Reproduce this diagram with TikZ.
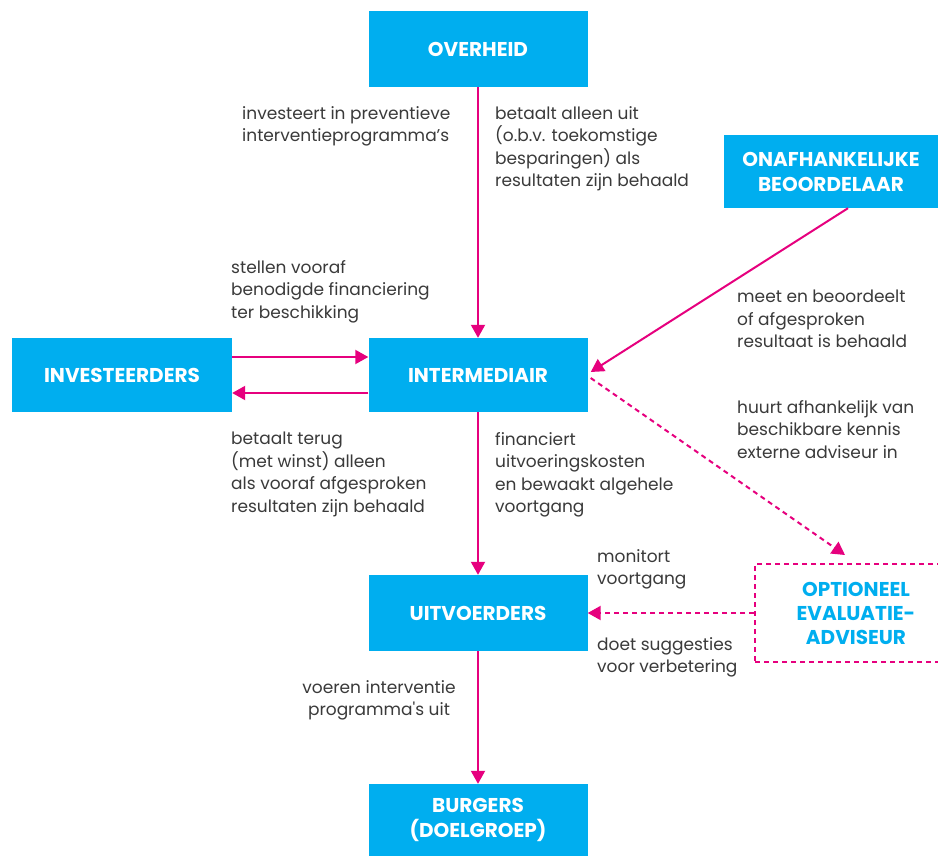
\documentclass[tikz,border=0pt]{standalone}
\usepackage{fontspec}
\setmainfont{Poppins}
\usetikzlibrary{arrows.meta}
\definecolor{boxblue}{HTML}{00AEEF}
\definecolor{mag}{HTML}{E6007E}
\definecolor{txt}{HTML}{3A3A3A}
\begin{document}
\begin{tikzpicture}[x=1pt,y=-1pt,
 box/.style={fill=boxblue, text=white, font=\bfseries\fontsize{20}{25}\selectfont, align=center, inner sep=0pt, minimum width=219pt, minimum height=76pt},
 lbl/.style={text=txt, font=\fontsize{17}{22.5}\selectfont, align=left, inner sep=0pt, anchor=north west},
 arr/.style={draw=mag, line width=2pt, -{Triangle[length=13pt,width=14pt]}},
 darr/.style={arr, dash pattern=on 5pt off 4pt}]
\useasboundingbox (0,0) rectangle (938,856);
\fill[white] (0,0) rectangle (938,856);
\node[box] (ov) at (478,49) {OVERHEID};
\node[box, minimum width=220pt, minimum height=74pt] (inv) at (122,375) {INVESTEERDERS};
\node[box, minimum height=74pt] (im) at (478,375) {INTERMEDIAIR};
\node[box, minimum width=214pt, minimum height=73pt] (be) at (831,171.5) {ONAFHANKELIJKE\\BEOORDELAAR};
\node[box] (uit) at (478,613) {UITVOERDERS};
\node[box, minimum height=72pt] (bu) at (478,820) {BURGERS\\(DOELGROEP)};
\node[draw=mag, dash pattern=on 5pt off 4pt, line width=2pt, text=boxblue, font=\bfseries\fontsize{20}{24}\selectfont, minimum width=202pt, minimum height=98pt, align=center, inner sep=0pt] (opt) at (856,613) {OPTIONEEL\\EVALUATIE-\\ADVISEUR};

\node[lbl] (t1) at (242,106) {investeert in preventieve\\interventieprogramma’s};
\node[lbl] (t2) at (495,106) {betaalt alleen uit\\(o.b.v. toekomstige\\besparingen) als\\resultaten zijn behaald};
\node[lbl] (t3) at (231,260) {stellen vooraf\\benodigde financiering\\ter beschikking};
\node[lbl] (t4) at (737,290) {meet en beoordeelt\\of afgesproken\\resultaat is behaald};
\node[lbl] (t5) at (231,432) {betaalt terug\\(met winst) alleen\\als vooraf afgesproken\\resultaten zijn behaald};
\node[lbl] (t6) at (495,432) {financiert\\uitvoeringskosten\\en bewaakt algehele\\voortgang};
\node[lbl] (t7) at (737,400) {huurt afhankelijk van\\beschikbare kennis\\externe adviseur in};
\node[lbl] (t8) at (597,549) {monitort\\voortgang};
\node[lbl] (t9) at (597,637) {doet suggesties\\voor verbetering};
\node[lbl, align=center, anchor=north] (t10) at (379,680) {voeren interventie\\programma\textquotesingle s uit};

\draw[arr] (ov) -- (im);
\draw[arr] ([xshift=17pt]be.south) -- ([xshift=3pt,yshift=3pt]im.east);
\draw[darr] ([xshift=3pt,yshift=-3pt]im.east) -- ([xshift=-11pt,yshift=8pt]opt.north);
\draw[darr] (opt) -- (uit);
\draw[arr] (im) -- (uit);
\draw[arr] (uit) -- (bu);
\draw[arr] ([yshift=18pt]inv.east) -- ([yshift=18pt]im.west);
\draw[arr] ([yshift=-18pt]im.west) -- ([yshift=-18pt]inv.east);
\end{tikzpicture}
\end{document}
